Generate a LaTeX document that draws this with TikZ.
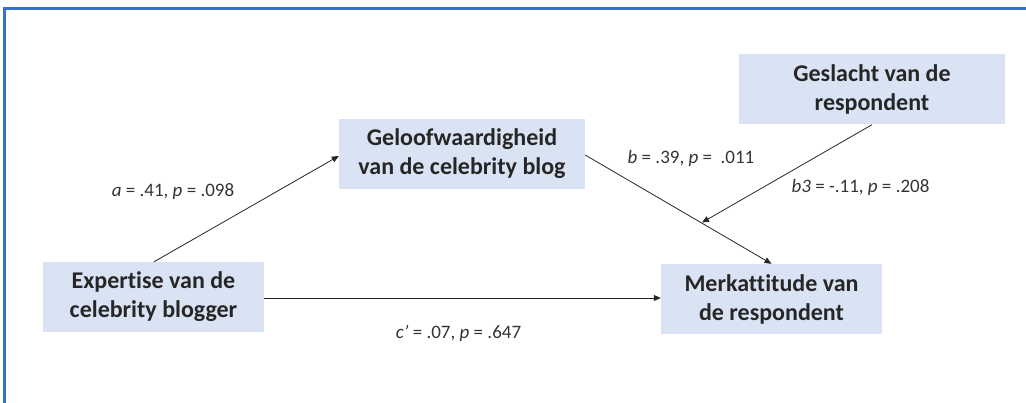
\documentclass[tikz,border=0pt]{standalone}
\usepackage{fontspec}
\setmainfont{Carlito}[Ligatures={NoCommon}]
\usetikzlibrary{arrows.meta}
\definecolor{boxfill}{HTML}{DAE3F3}
\definecolor{framebl}{HTML}{3A6FC8}
\tikzset{
  varbox/.style={fill=boxfill, draw=none, minimum width=#1, minimum height=70pt,
    inner sep=0pt, align=center, font=\fontsize{24}{29}\selectfont\bfseries,
    text=black!85},
  coef/.style={font=\fontsize{19}{21}\selectfont, text=black!80, inner sep=0pt},
  link/.style={draw=black!85, line width=0.8pt, -{Triangle[length=7pt,width=6pt]}}
}
\begin{document}
\begin{tikzpicture}[x=1pt,y=-1pt]
\useasboundingbox (0,0) rectangle (1026,403);
% window frame
\draw[framebl, line width=2.2pt] (4.5,403) -- (4.5,8.5) -- (1026,8.5);
% variables
\node[varbox=221pt] (exp) at (153.5,297) {Expertise van de\\celebrity blogger};
\node[varbox=246pt] (geloof) at (462,154) {Geloofwaardigheid\\van de celebrity blog};
\node[varbox=266pt] (gesl) at (872,89.5) {Geslacht van de\\respondent};
\node[varbox=221pt] (merk) at (771.5,299) {Merkattitude van\\de respondent};
% paths
\coordinate (mod) at (702,222.5);
\draw[link] (exp.north) ++(0.5,0) -- (geloof.west |- 0,156);
\draw[link] (geloof.east |- 0,155) -- (merk.north);
\draw[link] (gesl.south) -- (mod);
\draw[link] (exp.east |- 0,298) -- (merk.west |- 0,298);
% coefficients
\node[coef] (la) at (173,192) {\textit{a} = .41, \textit{p} = .098};
\node[coef] (lb) at (691,158) {\textit{b} = .39, \textit{p} =\ \ .011};
\node[coef] (lb3) at (860.5,187) {\textit{b3} = -.11, \textit{p} = .208};
\node[coef] (lc) at (458.5,333) {\textit{c’} = .07, \textit{p} = .647};
\end{tikzpicture}
\end{document}
